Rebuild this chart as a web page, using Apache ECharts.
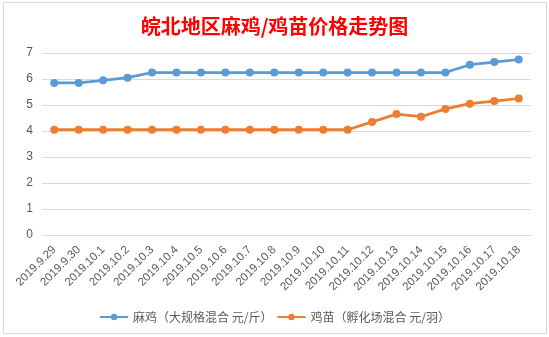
<!DOCTYPE html>
<html><head><meta charset="utf-8">
<script src="https://cdn.jsdelivr.net/npm/echarts@6/dist/echarts.min.js"></script>
<style>html,body{margin:0;padding:0;background:#fff}#c{width:549px;height:337px}</style>
</head><body><div id="c"></div>
<script>
var categories = ['2019.9.29','2019.9.30','2019.10.1','2019.10.2','2019.10.3','2019.10.4','2019.10.5','2019.10.6','2019.10.7','2019.10.8','2019.10.9','2019.10.10','2019.10.11','2019.10.12','2019.10.13','2019.10.14','2019.10.15','2019.10.16','2019.10.17','2019.10.18'];
var maji = [5.85,5.85,5.95,6.05,6.25,6.25,6.25,6.25,6.25,6.25,6.25,6.25,6.25,6.25,6.25,6.25,6.25,6.55,6.65,6.75];
var jimiao = [4.05,4.05,4.05,4.05,4.05,4.05,4.05,4.05,4.05,4.05,4.05,4.05,4.05,4.35,4.65,4.55,4.85,5.05,5.15,5.25];
var seriesNames = ['麻鸡（大规格混合 元/斤）','鸡苗（孵化场混合 元/羽）'];
var titleText = '皖北地区麻鸡/鸡苗价格走势图';

var chart = echarts.init(document.getElementById('c'));
var txtFont = '"Noto Sans CJK SC", "Noto Sans", sans-serif';
chart.setOption({
  animation: false,
  backgroundColor: '#ffffff',
  textStyle: {fontFamily: txtFont},
  graphic: [{
    type: 'rect', shape: {x: 3.5, y: 2.5, width: 543, height: 331},
    style: {fill: 'none', stroke: '#d9d9d9', lineWidth: 1}, silent: true, z: -1
  }],
  title: {
    text: titleText, left: 'center', top: 11,
    textStyle: {color: '#ff0000', fontSize: 20, fontWeight: 'bold', fontFamily: txtFont}
  },
  legend: {
    data: seriesNames, left: 'center', top: 306, itemWidth: 28, itemHeight: 8, itemGap: 4,
    textStyle: {color: '#595959', fontSize: 12, fontFamily: txtFont}
  },
  grid: {left: 42, right: 18, top: 53, bottom: 102, containLabel: false},
  xAxis: {
    type: 'category', data: categories, boundaryGap: true,
    axisLine: {lineStyle: {color: '#d9d9d9'}},
    axisTick: {show: false},
    axisLabel: {rotate: 45, interval: 0, color: '#595959', fontSize: 11.5, margin: 13, fontFamily: '"Liberation Sans", sans-serif'}
  },
  yAxis: {
    type: 'value', min: 0, max: 7, interval: 1,
    axisLine: {show: false}, axisTick: {show: false},
    axisLabel: {color: '#595959', fontSize: 12, margin: 9, fontFamily: '"Liberation Sans", sans-serif'},
    splitLine: {lineStyle: {color: '#d9d9d9'}}
  },
  series: [{
    name: seriesNames[0], type: 'line', data: maji,
    symbol: 'circle', symbolSize: 8,
    lineStyle: {color: '#5b9bd5', width: 2.75},
    itemStyle: {color: '#5b9bd5'}
  }, {
    name: seriesNames[1], type: 'line', data: jimiao,
    symbol: 'circle', symbolSize: 8,
    lineStyle: {color: '#ed7d31', width: 2.75},
    itemStyle: {color: '#ed7d31'}
  }]
});
</script></body></html>
